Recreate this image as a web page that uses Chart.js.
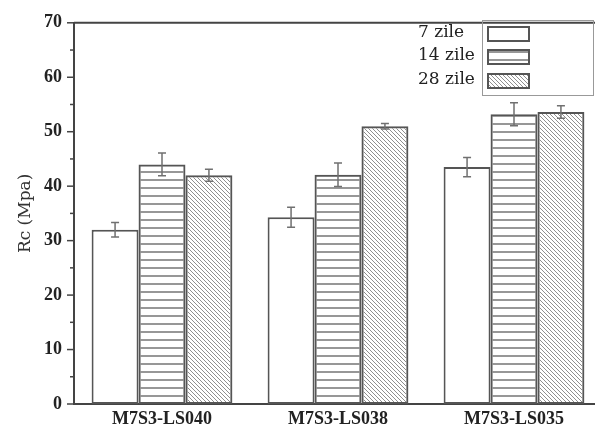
<!DOCTYPE html>
<html>
<head>
<meta charset="utf-8">
<script src="https://cdn.jsdelivr.net/npm/chart.js@4"></script>
<style>
  html, body { margin: 0; padding: 0; background: #fff; overflow: hidden; }
  #wrap { width: 595px; height: 432px; overflow: hidden; }
</style>
</head>
<body>
<div id="wrap"><canvas id="rcChart" width="620" height="432"></canvas></div>
<script>
/* ── Dados ── */
const categories = ['M7S3-LS040', 'M7S3-LS038', 'M7S3-LS035'];
const seriesLabels = ['7 zile', '14 zile', '28 zile'];
const rc7  = [32.0, 34.3, 43.5];
const err7 = [1.35, 1.85, 1.75];
const rc14  = [44.0, 42.1, 53.2];
const err14 = [2.1, 2.15, 2.1];
const rc28  = [42.0, 51.0, 53.6];
const err28 = [1.1, 0.5, 1.15];
const yTicks = [0, 10, 20, 30, 40, 50, 60, 70];

const EDGE = '#555';
const SERIF = "'Liberation Serif', 'Times New Roman', serif";
const SERIF2 = "'DejaVu Serif', serif";

/* ── Hachuras ── */
function stripePattern() {
  const c = document.createElement('canvas');
  c.width = 8; c.height = 8;
  const g = c.getContext('2d');
  g.strokeStyle = '#6a6a6a';
  g.lineWidth = 1.4;
  g.beginPath(); g.moveTo(0, 4); g.lineTo(8, 4); g.stroke();
  return g.createPattern(c, 'repeat');
}
function diagPattern() {
  const s = 4;
  const c = document.createElement('canvas');
  c.width = s; c.height = s;
  const g = c.getContext('2d');
  g.strokeStyle = '#8f8f8f';
  g.lineWidth = 1;
  g.beginPath();
  g.moveTo(0, 0); g.lineTo(s, s);
  g.moveTo(-1, s - 1); g.lineTo(1, s + 1);
  g.moveTo(s - 1, -1); g.lineTo(s + 1, 1);
  g.stroke();
  return g.createPattern(c, 'repeat');
}

const errors = [err7, err14, err28];

/* barras de erro */
const errorBars = {
  id: 'errorBars',
  afterDatasetsDraw(chart) {
    const { ctx, scales: { y } } = chart;
    ctx.save();
    ctx.strokeStyle = '#707070';
    ctx.lineWidth = 1.5;
    chart.data.datasets.forEach((ds, i) => {
      chart.getDatasetMeta(i).data.forEach((bar, j) => {
        const v = ds.data[j], e = errors[i][j];
        const yt = y.getPixelForValue(v + e), yb = y.getPixelForValue(v - e);
        ctx.beginPath();
        ctx.moveTo(bar.x, yt); ctx.lineTo(bar.x, yb);
        ctx.moveTo(bar.x - 4, yt); ctx.lineTo(bar.x + 4, yt);
        ctx.moveTo(bar.x - 4, yb); ctx.lineTo(bar.x + 4, yb);
        ctx.stroke();
      });
    });
    ctx.restore();
  }
};

/* moldura, ticks menores e legenda */
const frame = {
  id: 'frame',
  afterDraw(chart) {
    const { ctx, chartArea: a, scales: { y } } = chart;
    ctx.save();
    ctx.strokeStyle = '#444';
    ctx.lineWidth = 2;
    ctx.beginPath();
    ctx.moveTo(a.left, a.top); ctx.lineTo(a.right, a.top); ctx.lineTo(a.right, a.bottom);
    ctx.stroke();

    ctx.lineWidth = 1.5;
    for (let v = 0; v <= 70; v += 5) {
      const py = y.getPixelForValue(v);
      const len = v % 10 === 0 ? 7 : 4;
      ctx.beginPath(); ctx.moveTo(a.left - len, py); ctx.lineTo(a.left, py); ctx.stroke();
    }

    // legenda
    ctx.strokeStyle = '#999';
    ctx.lineWidth = 1;
    ctx.strokeRect(482.5, 20.5, 111, 75);
    ctx.font = '17px ' + SERIF2;
    ctx.textBaseline = 'middle';
    const rows = [34, 57, 81];
    chart.data.datasets.forEach((ds, i) => {
      ctx.fillStyle = ds.backgroundColor;
      ctx.fillRect(488, rows[i] - 7, 41, 14);
      ctx.strokeStyle = EDGE;
      ctx.lineWidth = 2;
      ctx.strokeRect(488, rows[i] - 7, 41, 14);
      ctx.fillStyle = '#222';
      ctx.fillText(ds.label, 418, rows[i] - 1);
    });
    ctx.restore();
  }
};

const fills = ['#ffffff', stripePattern(), diagPattern()];
const values = [rc7, rc14, rc28];

new Chart(document.getElementById('rcChart'), {
  type: 'bar',
  data: {
    labels: categories,
    datasets: seriesLabels.map((lab, i) => ({
      label: lab,
      data: values[i],
      backgroundColor: fills[i],
      borderColor: EDGE,
      borderWidth: 2,
      borderSkipped: false,
      categoryPercentage: 0.8,
      barPercentage: 1.0,
    }))
  },
  options: {
    responsive: false,
    animation: false,
    devicePixelRatio: 1,
    layout: { padding: { top: 16, left: 0, right: 18, bottom: 0 } },
    plugins: { legend: { display: false }, tooltip: { enabled: false } },
    scales: {
      x: {
        grid: { display: false, drawTicks: false },
        border: { display: true, color: '#444', width: 2 },
        ticks: { color: '#222', padding: 5, font: { family: SERIF, size: 18, weight: 'bold' } },
        afterFit: s => { s.height = 28; }
      },
      y: {
        min: 0, max: 70,
        afterBuildTicks: s => { s.ticks = yTicks.map(v => ({ value: v })); },
        grid: { display: false, drawTicks: false },
        border: { display: true, color: '#444', width: 2 },
        ticks: { color: '#222', padding: 12, font: { family: SERIF, size: 18, weight: 'bold' } },
        title: {
          display: true, text: 'Rc (Mpa)', color: '#333',
          font: { family: SERIF2, size: 17 },
          padding: { top: 15, bottom: 0 }
        },
        afterFit: s => { s.width = 74; }
      }
    }
  },
  plugins: [errorBars, frame]
});
</script>
</body>
</html>
